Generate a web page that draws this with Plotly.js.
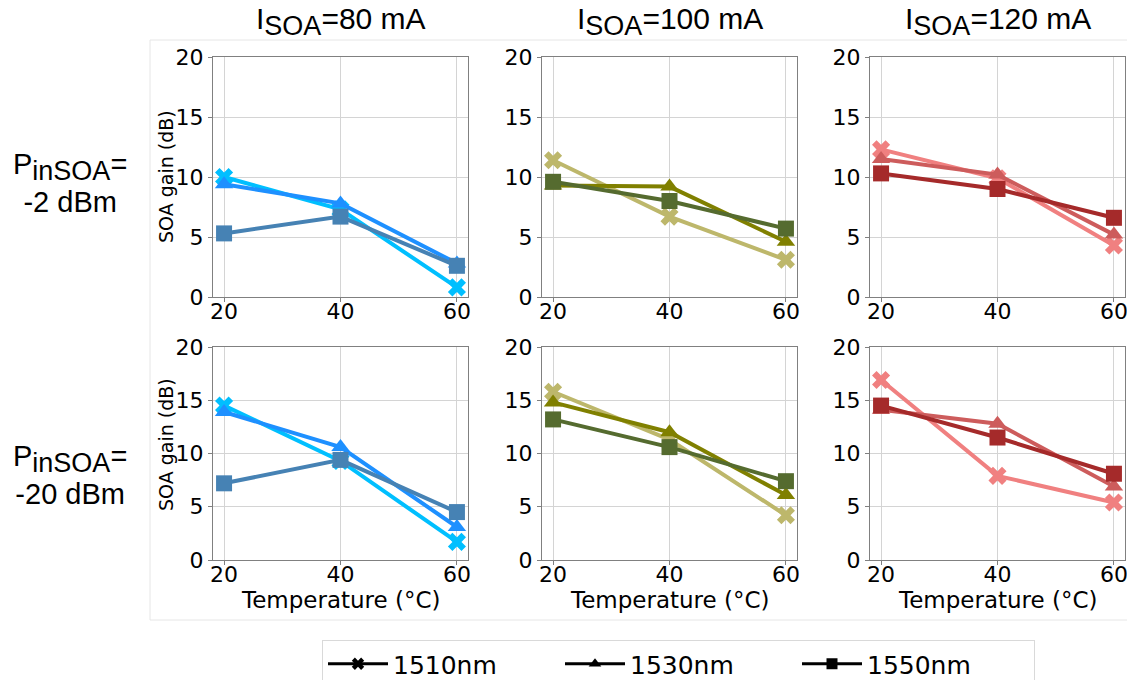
<!DOCTYPE html>
<html>
<head>
<meta charset="utf-8">
<script src="https://cdn.plot.ly/plotly-3.0.1.min.js"></script>
<style>
html, body { margin: 0; padding: 0; background: #fff; }
#chart { width: 1127px; height: 680px; }
</style>
</head>
<body>
<div id="chart"></div>
<script>
// ---------- data ----------
const temperatures = [20, 40, 60];
const wavelengths = ['1510nm', '1530nm', '1550nm'];
const currentLabels = ['80 mA', '100 mA', '120 mA'];
const powerLabels = ['-2 dBm', '-20 dBm'];

// P_inSOA = -2 dBm
const gain80_m2_1510 = [10.0, 7.3, 0.8];
const gain80_m2_1530 = [9.4, 7.8, 2.8];
const gain80_m2_1550 = [5.3, 6.7, 2.6];
const gain100_m2_1510 = [11.4, 6.7, 3.1];
const gain100_m2_1530 = [9.3, 9.2, 4.6];
const gain100_m2_1550 = [9.6, 8.0, 5.7];
const gain120_m2_1510 = [12.3, 9.9, 4.3];
const gain120_m2_1530 = [11.5, 10.2, 5.2];
const gain120_m2_1550 = [10.3, 9.0, 6.6];

// P_inSOA = -20 dBm
const gain80_m20_1510 = [14.5, 9.3, 1.7];
const gain80_m20_1530 = [13.9, 10.6, 3.1];
const gain80_m20_1550 = [7.2, 9.4, 4.5];
const gain100_m20_1510 = [15.8, 11.3, 4.2];
const gain100_m20_1530 = [14.8, 12.0, 6.1];
const gain100_m20_1550 = [13.2, 10.6, 7.4];
const gain120_m20_1510 = [16.9, 7.9, 5.4];
const gain120_m20_1530 = [14.1, 12.8, 6.9];
const gain120_m20_1550 = [14.5, 11.5, 8.1];

const yTicks = [0, 5, 10, 15, 20];
const xTicks = [20, 40, 60];

// ---------- styling ----------
const colors80 = ['#00BFFF', '#1E90FF', '#4682B4'];
const colors100 = ['#BDB76B', '#808000', '#556B2F'];
const colors120 = ['#F08080', '#CD5C5C', '#A52A2A'];
const symbols = ['x', 'triangle-up', 'square'];

const W = 1127, H = 680;
const px = x => x / W;
const py = y => 1 - y / H;

const colX = [[213, 468], [542, 797], [870, 1125]];
const rowY = [[57, 297], [347, 560]];

const grid = [
  [[gain80_m2_1510, gain80_m2_1530, gain80_m2_1550], [gain100_m2_1510, gain100_m2_1530, gain100_m2_1550], [gain120_m2_1510, gain120_m2_1530, gain120_m2_1550]],
  [[gain80_m20_1510, gain80_m20_1530, gain80_m20_1550], [gain100_m20_1510, gain100_m20_1530, gain100_m20_1550], [gain120_m20_1510, gain120_m20_1530, gain120_m20_1550]]
];
const colColors = [colors80, colors100, colors120];

const traces = [];
const layout = {
  width: W, height: H,
  margin: {l: 0, r: 0, t: 0, b: 0, autoexpand: false},
  paper_bgcolor: '#fff', plot_bgcolor: '#fff',
  showlegend: true,
  annotations: [],
  shapes: [{
    type: 'rect', xref: 'paper', yref: 'paper',
    x0: px(150), x1: px(1140), y0: py(620), y1: py(40),
    line: {color: '#e6e6e6', width: 1}, fillcolor: 'rgba(0,0,0,0)', layer: 'below'
  }],
  legend: {
    orientation: 'h', x: px(322), xanchor: 'left', y: py(640), yanchor: 'top',
    font: {family: 'DejaVu Sans', size: 25, color: '#000'},
    bordercolor: '#d9d9d9', borderwidth: 1, bgcolor: '#fff',
    itemwidth: 60, entrywidth: 162, entrywidthmode: 'pixels'
  }
};

const tickFont = {family: 'DejaVu Sans', size: 22, color: '#000'};
let idx = 0;
for (let r = 0; r < 2; r++) {
  for (let c = 0; c < 3; c++) {
    idx++;
    const sfx = idx === 1 ? '' : String(idx);
    layout['xaxis' + sfx] = {
      domain: [px(colX[c][0]), px(colX[c][1])], anchor: 'y' + sfx,
      range: [18.1, 61.9], tickvals: xTicks, ticktext: xTicks.map(String),
      showgrid: true, gridcolor: '#d4d4d4', gridwidth: 1,
      showline: true, mirror: true, linecolor: '#808080', linewidth: 1.2,
      ticks: 'outside', ticklen: 4, tickcolor: '#808080',
      tickfont: tickFont, zeroline: false, fixedrange: true,
      ticklabeloverflow: 'allow', ticklabelstandoff: -10
    };
    layout['yaxis' + sfx] = {
      domain: [py(rowY[r][1]), py(rowY[r][0])], anchor: 'x' + sfx,
      range: [0, 20], tickvals: yTicks, ticktext: yTicks.map(String),
      showgrid: true, gridcolor: '#d4d4d4', gridwidth: 1,
      showline: true, mirror: true, linecolor: '#808080', linewidth: 1.2,
      ticks: 'outside', ticklen: 4, tickcolor: '#808080',
      tickfont: tickFont, zeroline: false, fixedrange: true,
      ticklabeloverflow: 'allow'
    };
    for (let k = 0; k < 3; k++) {
      traces.push({
        type: 'scatter', mode: 'lines+markers',
        x: temperatures, y: grid[r][c][k],
        xaxis: 'x' + sfx, yaxis: 'y' + sfx,
        name: wavelengths[k], showlegend: false,
        line: {color: colColors[c][k], width: 4},
        marker: {symbol: symbols[k], size: 16, color: colColors[c][k], line: {width: 0}},
        cliponaxis: false
      });
    }
  }
}

// legend proxies (black), no visible data
for (let k = 0; k < 3; k++) {
  traces.push({
    type: 'scatter', mode: 'lines+markers', x: [null], y: [null],
    xaxis: 'x', yaxis: 'y', name: wavelengths[k], showlegend: true,
    line: {color: '#000', width: 3},
    marker: {symbol: symbols[k], size: 11, color: '#000', line: {width: 0}}
  });
}

// column titles
const titleFont = {family: 'Liberation Sans', size: 30, color: '#000'};
for (let c = 0; c < 3; c++) {
  layout.annotations.push({
    xref: 'paper', yref: 'paper', x: px((colX[c][0] + colX[c][1]) / 2), y: py(22),
    xanchor: 'center', yanchor: 'middle', showarrow: false,
    text: 'I<sub><span style="font-size:27px">SOA</span></sub>=' + currentLabels[c],
    font: titleFont
  });
  layout.annotations.push({
    xref: 'paper', yref: 'paper', x: px((colX[c][0] + colX[c][1]) / 2), y: py(600),
    xanchor: 'center', yanchor: 'middle', showarrow: false,
    text: 'Temperature (°C)',
    font: {family: 'DejaVu Sans', size: 23, color: '#000'}
  });
}
// row labels
const rowLabelY = [183, 475];
for (let r = 0; r < 2; r++) {
  layout.annotations.push({
    xref: 'paper', yref: 'paper', x: px(70), y: py(rowLabelY[r]),
    xanchor: 'center', yanchor: 'middle', showarrow: false, align: 'center',
    text: 'P<sub><span style="font-size:27px">inSOA</span></sub>=<br>' + powerLabels[r],
    font: {family: 'Liberation Sans', size: 29, color: '#000'}
  });
}
// y titles
const yTitleY = [177, 445];
for (let r = 0; r < 2; r++) {
  layout.annotations.push({
    xref: 'paper', yref: 'paper', x: px(166), y: py(yTitleY[r]),
    xanchor: 'center', yanchor: 'middle', showarrow: false, textangle: -90,
    text: 'SOA gain (dB)',
    font: {family: 'DejaVu Sans', size: 19, color: '#000'}
  });
}

Plotly.newPlot('chart', traces, layout, {displayModeBar: false, staticPlot: true});
</script>
</body>
</html>
